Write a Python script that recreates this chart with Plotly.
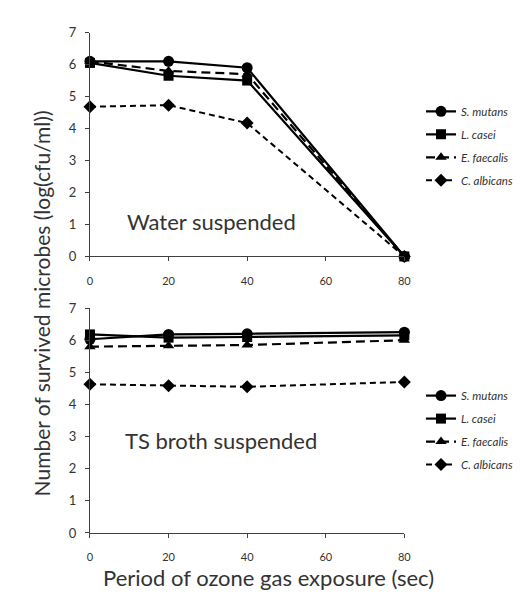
import plotly.graph_objects as go

W, H = 524, 606
time_sec = [0, 20, 40, 80]
x_ticks = [0, 20, 40, 60, 80]
y_ticks = [0, 1, 2, 3, 4, 5, 6, 7]
species = ["S. mutans", "L. casei", "E. faecalis", "C. albicans"]

# Water suspended (top panel)
water_s_mutans = [6.1, 6.1, 5.9, 0.0]
water_l_casei = [6.05, 5.65, 5.5, 0.0]
water_e_faecalis = [6.1, 5.8, 5.7, 0.0]
water_c_albicans = [4.68, 4.73, 4.17, 0.0]

# TS broth suspended (bottom panel)
broth_s_mutans = [6.03, 6.18, 6.2, 6.25]
broth_l_casei = [6.18, 6.08, 6.1, 6.15]
broth_e_faecalis = [5.8, 5.83, 5.85, 6.0]
broth_c_albicans = [4.63, 4.58, 4.55, 4.7]

styles = [
    dict(symbol="circle", size=11, dash="solid", width=2.2),
    dict(symbol="square", size=10, dash="solid", width=2.2),
    dict(symbol="triangle-up", size=10, dash="9px,5px", width=2.2),
    dict(symbol="diamond", size=10, dash="6px,4px", width=2.0),
]

def px(x):
    return x / W

def py(y):
    return 1 - y / H

FONT = "Lato, Open Sans, sans-serif"
TXT = "#333333"

fig = go.Figure()
panels = [
    ("x", "y", "legend", [water_s_mutans, water_l_casei, water_e_faecalis, water_c_albicans]),
    ("x2", "y2", "legend2", [broth_s_mutans, broth_l_casei, broth_e_faecalis, broth_c_albicans]),
]
for xa, ya, lg, series in panels:
    for i, (name, vals, st) in enumerate(zip(species, series, styles)):
        fig.add_trace(go.Scatter(
            x=time_sec, y=vals, name=name, mode="lines+markers",
            xaxis=xa, yaxis=ya, legend=lg, legendgroup=lg + str(i),
            line=dict(color="black", width=st["width"], dash=st["dash"]),
            marker=dict(symbol=st["symbol"], size=st["size"], color="black"),
            cliponaxis=False,
        ))

axis_common = dict(
    showgrid=False, zeroline=False, showline=True, linecolor="#404040", linewidth=1,
    ticks="outside", ticklen=4, tickcolor="#404040",
)
xfont = dict(family=FONT, size=11, color=TXT)
yfont = dict(family=FONT, size=13, color=TXT)
xdom = [px(80.5), px(401)]
legend_common = dict(
    xanchor="left", yanchor="top",
    font=dict(family=FONT, size=11.5, color=TXT, style="italic"),
    tracegroupgap=4, bgcolor="rgba(0,0,0,0)", itemwidth=30,
)
fig.update_layout(
    width=W, height=H, margin=dict(l=0, r=0, t=0, b=0),
    paper_bgcolor="white", plot_bgcolor="white",
    xaxis=dict(domain=xdom, range=[0, 80], tickvals=x_ticks, anchor="y",
               ticklabelstandoff=10, tickfont=xfont, **axis_common),
    yaxis=dict(domain=[py(247), py(17)], range=[0, 7], tickvals=y_ticks, anchor="x",
               ticklabelstandoff=6, tickfont=yfont, **axis_common),
    xaxis2=dict(domain=xdom, range=[0, 80], tickvals=x_ticks, anchor="y2",
                ticklabelstandoff=10, tickfont=xfont, **axis_common),
    yaxis2=dict(domain=[py(531), py(300)], range=[0, 7], tickvals=y_ticks, anchor="x2",
                ticklabelstandoff=6, tickfont=yfont, **axis_common),
    legend=dict(x=px(418), y=py(83), **legend_common),
    legend2=dict(x=px(418), y=py(375), **legend_common),
    annotations=[
        dict(text="Water suspended", x=px(204), y=py(195), xref="paper", yref="paper",
             showarrow=False, font=dict(family=FONT, size=22, color=TXT)),
        dict(text="TS broth suspended", x=px(214), y=py(452), xref="paper", yref="paper",
             showarrow=False, font=dict(family=FONT, size=22, color=TXT)),
        dict(text="Number of survived microbes (log(cfu/ml))", x=px(16), y=py(295),
             xref="paper", yref="paper", showarrow=False, textangle=-90,
             font=dict(family=FONT, size=21, color=TXT)),
        dict(text="Period of ozone gas exposure (sec)", x=px(262), y=py(593),
             xref="paper", yref="paper", showarrow=False,
             font=dict(family=FONT, size=22, color=TXT)),
    ],
)

fig.write_html("out.html")
